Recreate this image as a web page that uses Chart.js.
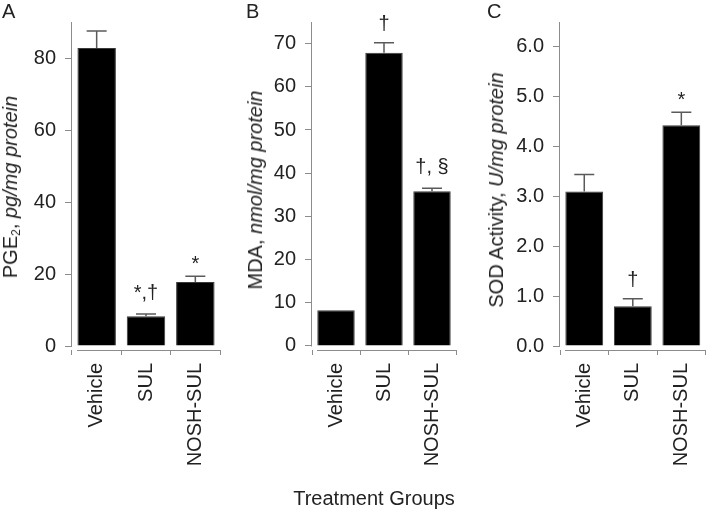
<!DOCTYPE html>
<html>
<head>
<meta charset="utf-8">
<script src="https://cdn.jsdelivr.net/npm/chart.js@4.4.1/dist/chart.umd.min.js"></script>
<style>
  html, body { margin: 0; padding: 0; background: #fff; }
  #fig { position: relative; width: 714px; height: 514px; overflow: hidden;
         font-family: "Liberation Sans", Arial, sans-serif; color: #222; }
  .panel { position: absolute; top: 0; height: 514px; }
  .letter { position: absolute; top: 1px; font-size: 20px; line-height: 20px; }
  .ytitle { position: absolute; font-size: 20px; line-height: 20px; white-space: nowrap;
            transform: translate(-50%, -50%) rotate(-90deg); }
  .ytitle sub { font-size: 12px; line-height: 0; vertical-align: -3px; }
  #xtitle { position: absolute; left: 374px; top: 488px; font-size: 20px; line-height: 20px;
            white-space: nowrap; transform: translateX(-50%); }
</style>
</head>
<body>
<div id="fig">
  <div class="panel" style="left:0;width:230px"><canvas id="chartA" width="230" height="514"></canvas></div>
  <div class="panel" style="left:240px;width:226px"><canvas id="chartB" width="226" height="514"></canvas></div>
  <div class="panel" style="left:488px;width:226px"><canvas id="chartC" width="226" height="514"></canvas></div>

  <div class="letter" style="left:2px">A</div>
  <div class="letter" style="left:246px">B</div>
  <div class="letter" style="left:487px">C</div>

  <div class="ytitle" style="left:10px;top:187px">PGE<sub>2</sub>, <i>pg/mg protein</i></div>
  <div class="ytitle" style="left:255px;top:190px">MDA, <i>nmol/mg protein</i></div>
  <div class="ytitle" style="left:496px;top:190px">SOD Activity, <i>U/mg protein</i></div>

  <div id="xtitle">Treatment Groups</div>
</div>
<script>
// categories
const groups = ["Vehicle", "SUL", "NOSH-SUL"];

// A: PGE2
const pgeValues = [82.8, 8.3, 17.8];
const pgeErrors = [4.7, 0.6, 1.6];
const pgeNotes = ["", "*,†", "*"];
const pgeTicks = [0, 20, 40, 60, 80];

// B: MDA
const mdaValues = [8.3, 67.9, 35.8];
const mdaErrors = [0, 2.3, 0.7];
const mdaNotes = ["", "†", "†, §"];
const mdaTicks = [0, 10, 20, 30, 40, 50, 60, 70];

// C: SOD activity
const sodValues = [3.1, 0.8, 4.43];
const sodErrors = [0.34, 0.15, 0.26];
const sodNotes = ["", "†", "*"];
const sodTicks = [0, 1, 2, 3, 4, 5, 6];

const FONT = "'Liberation Sans', Arial, sans-serif";
const axisColor = "#8c8c8c";
const textColor = "#222";

// axis lines in the "open" style: y axis stops at 0, x axis starts a bit right of it
const axisLines = {
  id: "axisLines",
  afterDraw(chart) {
    const { ctx, chartArea: a, scales: { x, y } } = chart;
    ctx.save();
    ctx.strokeStyle = axisColor;
    ctx.lineWidth = 1;
    ctx.beginPath();
    const lx = Math.round(a.left) - 0.5;
    ctx.moveTo(lx, y.getPixelForValue(y.max));
    ctx.lineTo(lx, y.getPixelForValue(0) + 0.5);
    const by = Math.round(a.bottom) + 0.5;
    ctx.moveTo(a.left + 5, by);
    ctx.lineTo(a.right, by);
    ctx.stroke();
    ctx.restore();
  }
};

function makeChart(id, values, errors, notes, ticks, yMin, yMax, decimals, rightPad) {
  // upper error whiskers + significance marks
  const errorBars = {
    id: "errorBars",
    afterDatasetsDraw(chart) {
      const { ctx, scales: { y } } = chart;
      const meta = chart.getDatasetMeta(0);
      ctx.save();
      meta.data.forEach((bar, i) => {
        const top = y.getPixelForValue(values[i] + errors[i]);
        if (errors[i] > 0) {
          ctx.strokeStyle = "#5a5a5a";
          ctx.lineWidth = 1.5;
          ctx.beginPath();
          ctx.moveTo(bar.x, bar.y);
          ctx.lineTo(bar.x, top);
          ctx.moveTo(bar.x - 10, top);
          ctx.lineTo(bar.x + 10, top);
          ctx.stroke();
        }
        if (notes[i]) {
          ctx.font = "20px " + FONT;
          ctx.fillStyle = textColor;
          ctx.textAlign = "center";
          ctx.textBaseline = "alphabetic";
          const m = ctx.measureText(notes[i]);
          ctx.fillText(notes[i], bar.x, top - 12 - m.actualBoundingBoxDescent);
        }
      });
      ctx.restore();
    }
  };

  return new Chart(document.getElementById(id), {
    type: "bar",
    data: {
      labels: groups,
      datasets: [{
        data: values,
        backgroundColor: "#000",
        borderColor: "#3a3a3a",
        borderWidth: 1,
        categoryPercentage: 1,
        barPercentage: 0.78
      }]
    },
    options: {
      responsive: false,
      animation: false,
      layout: { padding: { top: 22, right: rightPad, left: 0, bottom: 0 } },
      plugins: { legend: { display: false }, tooltip: { enabled: false } },
      scales: {
        x: {
          offset: true,
          grid: { offset: true, drawOnChartArea: false, tickLength: 5, color: axisColor },
          border: { display: false },
          ticks: {
            autoSkip: false, minRotation: 90, maxRotation: 90, padding: 8,
            color: textColor, font: { family: FONT, size: 20 }
          },
          afterFit: (s) => { s.height = 164; }
        },
        y: {
          min: yMin,
          max: yMax,
          grid: { drawOnChartArea: false, tickLength: 7, color: axisColor },
          border: { display: false },
          ticks: {
            padding: 9, color: textColor, font: { family: FONT, size: 20 },
            callback: (v) => Number(v).toFixed(decimals)
          },
          afterBuildTicks: (s) => { s.ticks = ticks.map((v) => ({ value: v })); },
          afterFit: (s) => { s.width = 72; }
        }
      }
    },
    plugins: [axisLines, errorBars]
  });
}

makeChart("chartA", pgeValues, pgeErrors, pgeNotes, pgeTicks, -1.1, 90, 0, 10);
makeChart("chartB", mdaValues, mdaErrors, mdaNotes, mdaTicks, -0.93, 75, 0, 10);
makeChart("chartC", sodValues, sodErrors, sodNotes, sodTicks, -0.08, 6.5, 1, 4);
</script>
</body>
</html>
